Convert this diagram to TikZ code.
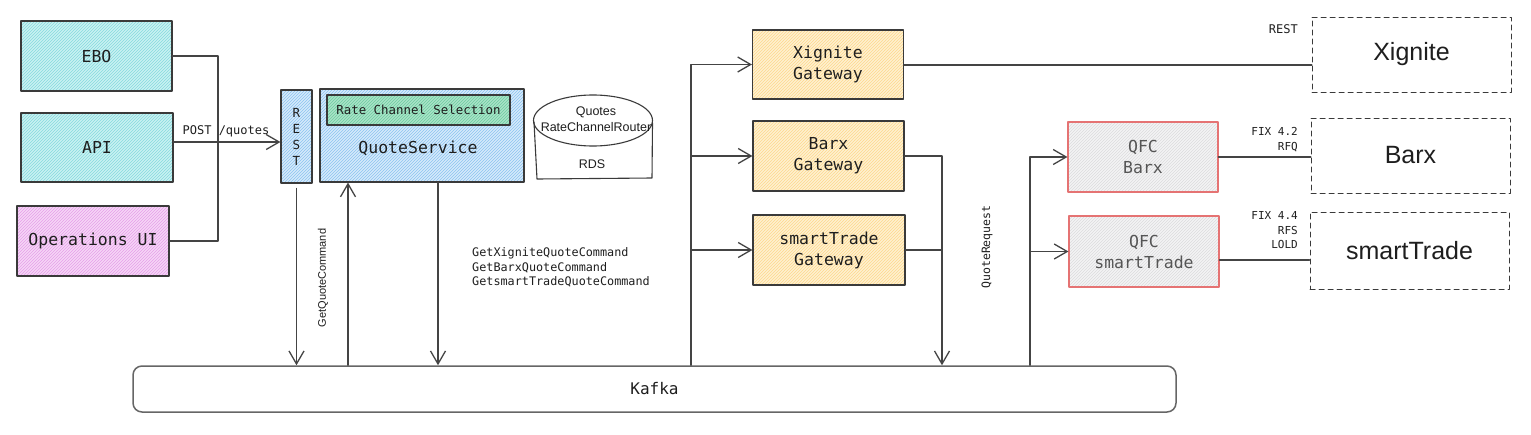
\documentclass[tikz,border=0pt]{standalone}
\usepackage{fontspec}
\setmainfont{Liberation Sans}
\setmonofont{DejaVu Sans Mono}
\usetikzlibrary{arrows.meta,patterns}

\definecolor{cyanfill}{HTML}{C9F1F2}
\definecolor{cyanhatch}{HTML}{86DADE}
\definecolor{pinkfill}{HTML}{F6D6F6}
\definecolor{pinkhatch}{HTML}{E6A0EA}
\definecolor{bluefill}{HTML}{D6EAFB}
\definecolor{bluehatch}{HTML}{8CC3F0}
\definecolor{greenfill}{HTML}{A9E3C8}
\definecolor{greenhatch}{HTML}{6ECBA0}
\definecolor{orangefill}{HTML}{FFF1D0}
\definecolor{orangehatch}{HTML}{FDD88E}
\definecolor{grayfill}{HTML}{F3F3F4}
\definecolor{grayhatch}{HTML}{DCDCDE}
\definecolor{qfcred}{HTML}{E57373}
\definecolor{edge}{HTML}{3A3A3A}
\definecolor{wirecol}{HTML}{444444}
\definecolor{ink}{HTML}{1E1E1E}
\definecolor{qfcink}{HTML}{555555}

\begin{document}
\begin{tikzpicture}[x=1pt,y=-1pt,line cap=round,line join=round,
  >={Straight Barb[length=13pt,width=15pt]},
  wire/.style={draw=wirecol,line width=1.3pt},
  hatchbox/.style 2 args={draw=edge,line width=1.1pt,preaction={fill=#1},
    pattern=north east lines,pattern color=#2,minimum width=151pt,minimum height=70pt,
    align=center,text=ink,font=\ttfamily\fontsize{16.5}{21}\selectfont},
  qfcbox/.style={hatchbox={grayfill}{grayhatch},draw=qfcred,minimum width=150pt,text=qfcink},
  extbox/.style={draw=edge,line width=1pt,dash pattern=on 5pt off 4pt,
    minimum width=199pt,minimum height=75pt,text=ink,font=\fontsize{25}{30}\selectfont},
  tag/.style={inner sep=0pt,align=right,text=ink,font=\ttfamily\fontsize{11}{14.5}\selectfont},
  rdstext/.style={inner sep=0pt,align=center,text=ink,font=\fontsize{12.5}{16}\selectfont}]
  \useasboundingbox (0,0) rectangle (1531,434);

  \node[hatchbox={cyanfill}{cyanhatch}] (ebo) at (96.5,56) {EBO};
  \node[hatchbox={cyanfill}{cyanhatch},minimum width=152pt,minimum height=69pt] (api) at (97,147.5) {API};
  \node[hatchbox={pinkfill}{pinkhatch},minimum width=152pt] (opsui) at (93,241) {Operations UI};

  \node[hatchbox={bluefill}{bluehatch},minimum width=31pt,minimum height=93pt,
    font=\ttfamily\fontsize{12.5}{16}\selectfont] (rest) at (296.5,136.5) {R\\E\\S\\T};
  \node[hatchbox={bluefill}{bluehatch},minimum width=204pt,minimum height=93pt] (quotesvc) at (422,135.5) {};
  \node[hatchbox={greenfill}{greenhatch},minimum width=183pt,minimum height=30pt,
    font=\ttfamily\fontsize{12.4}{15}\selectfont] (ratesel) at (418.5,110) {Rate Channel Selection};
  \node[text=ink,font=\ttfamily\fontsize{16.5}{21}\selectfont] (quotesvctext) at (418,148) {QuoteService};

  \draw[draw=edge,line width=1.1pt] (593,120.5) ellipse [x radius=59.5pt,y radius=25.5pt];
  \draw[draw=edge,line width=1.1pt] (534,122) -- (537,179) -- (652,178) -- (652.5,123);
  \node[rdstext] (rdsname) at (596,119) {Quotes\\RateChannelRouter};
  \node[rdstext] (rdslabel) at (592,164) {RDS};

  \node[draw=black!60,line width=1.5pt,rounded corners=9pt,fill=white,minimum width=1043pt,
    minimum height=46pt,text=ink,font=\ttfamily\fontsize{16}{20}\selectfont] (kafka) at (654.5,389) {Kafka};

  \node[hatchbox={orangefill}{orangehatch},minimum height=69pt] (xgw) at (828,64.5) {Xignite\\Gateway};
  \node[hatchbox={orangefill}{orangehatch}] (barxgw) at (828.5,156) {Barx\\Gateway};
  \node[hatchbox={orangefill}{orangehatch},minimum width=152pt] (stgw) at (829,250) {smartTrade\\Gateway};

  \node[qfcbox] (qfcbarx) at (1143,157) {QFC\\Barx};
  \node[qfcbox,minimum height=71pt] (qfcst) at (1144,251.5) {QFC\\smartTrade};

  \node[extbox] (xig) at (1411.5,54.5) {Xignite};
  \node[extbox] (barx) at (1410.5,155.5) {Barx};
  \node[extbox,minimum height=77pt] (smt) at (1409.5,250.5) {smartTrade};

  \coordinate (uimerge) at (218,150);
  \draw[wire] (ebo.east) -| (uimerge) |- (opsui.east);
  \coordinate (postrow) at (0,142);
  \draw[wire,->] (api.east |- postrow) -- (rest.west |- postrow);
  \node[tag,font=\ttfamily\fontsize{12}{14.5}\selectfont] (post) at (226,131) {POST /quotes};

  \coordinate (cmdup) at (348,0);
  \coordinate (cmddown) at (438,0);
  \draw[wire,->] ([yshift=-5pt]rest.south) -- (rest.south |- kafka.north);
  \draw[wire,->] (cmdup |- kafka.north) -- (cmdup |- quotesvc.south);
  \draw[wire,->] (cmddown |- quotesvc.south) -- (cmddown |- kafka.north);
  \node[rotate=90,text=ink,font=\fontsize{11}{12}\selectfont] (getquote) at (323,278) {GetQuoteCommand};
  \node[tag,anchor=west,align=left,font=\ttfamily\fontsize{11.8}{14.5}\selectfont] (cmds) at (472,267.5)
    {GetXigniteQuoteCommand\\GetBarxQuoteCommand\\GetsmartTradeQuoteCommand};

  \coordinate (gwbus) at (691,0);
  \draw[wire,->] (gwbus |- kafka.north) |- (xgw.west);
  \draw[wire,->] (gwbus |- barxgw.west) -- (barxgw.west);
  \draw[wire,->] (gwbus |- stgw.west) -- (stgw.west);

  \draw[wire,line width=2pt] (xgw.east) -- (xgw.east -| xig.west);
  \node[tag,anchor=east,font=\ttfamily\fontsize{12}{14.5}\selectfont] (restlink) at (1298,29) {REST};

  \coordinate (quotebus) at (942,0);
  \draw[wire,->] (barxgw.east) -| (quotebus |- kafka.north);
  \draw[wire] (stgw.east) -- (stgw.east -| quotebus);
  \node[rotate=90,tag,font=\ttfamily\fontsize{11.5}{14}\selectfont] (quotereq) at (987,247) {QuoteRequest};

  \coordinate (qfcbus) at (1030,0);
  \draw[wire,->] (qfcbus |- kafka.north) |- (qfcbarx.west);
  \draw[wire,->] (qfcbus |- qfcst.west) -- (qfcst.west);

  \draw[wire,line width=2pt] (qfcbarx.east) -- (qfcbarx.east -| barx.west);
  \coordinate (fixrow) at (0,260);
  \draw[wire,line width=1.6pt] (qfcst.east |- fixrow) -- (smt.west |- fixrow);
  \node[tag,anchor=east] (fixbarx) at (1298,139.5) {FIX 4.2\\RFQ};
  \node[tag,anchor=east] (fixst) at (1298,230.5) {FIX 4.4\\RFS\\LOLD};
\end{tikzpicture}
\end{document}
